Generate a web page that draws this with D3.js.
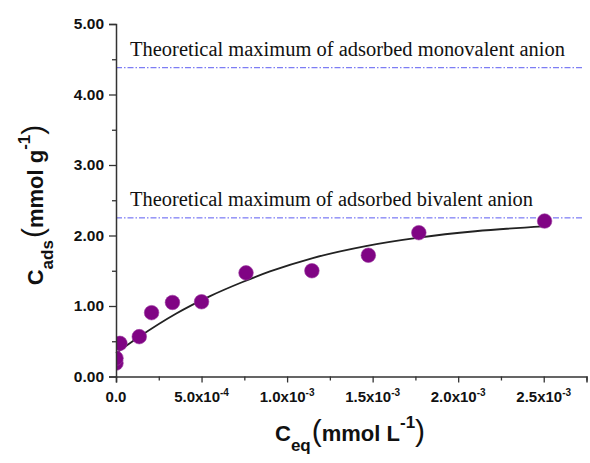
<!DOCTYPE html>
<html>
<head>
<meta charset="utf-8">
<script src="https://cdn.jsdelivr.net/npm/d3@7/dist/d3.min.js"></script>
<style>
  html, body { margin: 0; padding: 0; background: #fff; }
  svg { display: block; }
</style>
</head>
<body>
<div id="chart"></div>
<script>
// Measured adsorption points: equilibrium concentration vs adsorbed amount
const ceq  = [0, 0, 2.3e-5, 1.36e-4, 2.08e-4, 3.3e-4, 5.0e-4, 7.6e-4, 1.145e-3, 1.475e-3, 1.77e-3, 2.505e-3];
const cads = [0.19, 0.26, 0.47, 0.565, 0.905, 1.05, 1.06, 1.47, 1.50, 1.72, 2.04, 2.205];

// Fitted isotherm curve, sampled along the x range
const fitX = [0, 1.4e-4, 3.5e-4, 5.5e-4, 7.4e-4, 9.0e-4, 1.15e-3, 1.46e-3, 1.77e-3, 2.1e-3, 2.5e-3];
const fitY = [0.33, 0.57, 0.89, 1.14, 1.34, 1.49, 1.68, 1.85, 1.97, 2.06, 2.13];

// Theoretical capacity reference levels
const refLevels = [4.38, 2.25];
const refLabels = ["Theoretical maximum of adsorbed monovalent anion",
                   "Theoretical maximum of adsorbed bivalent anion"];
const refLabelWidths = [435, 403];

// Axis ticks
const xTicks = [0, 5e-4, 1e-3, 1.5e-3, 2e-3, 2.5e-3];
const xTickLabels = ["0.0", "5.0x10^-4", "1.0x10^-3", "1.5x10^-3", "2.0x10^-3", "2.5x10^-3"];
const xMinorTicks = [2.5e-4, 7.5e-4, 1.25e-3, 1.75e-3, 2.25e-3, 2.75e-3];
const yTicks = [0, 1, 2, 3, 4, 5];
const yTickLabels = ["0.00", "1.00", "2.00", "3.00", "4.00", "5.00"];
const yMinorTicks = [0.5, 1.5, 2.5, 3.5, 4.5];

const W = 590, H = 463;
const svg = d3.select("#chart").append("svg").attr("width", W).attr("height", H);

const x = d3.scaleLinear().domain([0, 2.75e-3]).range([116, 586.5]);
const y = d3.scaleLinear().domain([0, 5]).range([376.5, 24]);

const axisColor = "#333";
const sans = "'Liberation Sans', Arial, sans-serif";
const serif = "'Liberation Serif', 'Times New Roman', serif";

// Markers are clipped at the left axis
svg.append("defs").append("clipPath").attr("id", "plot-clip")
  .append("rect")
  .attr("x", x(0)).attr("y", 0)
  .attr("width", W - x(0)).attr("height", H);

// Reference lines and their captions
refLevels.forEach((v, i) => {
  svg.append("line")
    .attr("x1", x(0)).attr("x2", 582)
    .attr("y1", y(v)).attr("y2", y(v))
    .attr("stroke", "#5c5cf2").attr("stroke-width", 1)
    .attr("stroke-dasharray", "6,2,1.5,2");
  svg.append("text")
    .attr("x", 130).attr("y", y(v) - 11.5)
    .attr("font-family", serif).attr("font-size", 20)
    .attr("textLength", refLabelWidths[i]).attr("lengthAdjust", "spacingAndGlyphs")
    .attr("fill", "#111")
    .text(refLabels[i]);
});

// Fit curve
const fitData = fitX.map((d, i) => [d, fitY[i]]);
svg.append("path")
  .datum(fitData)
  .attr("fill", "none")
  .attr("stroke", "#222")
  .attr("stroke-width", 1.8)
  .attr("d", d3.line().x(d => x(d[0])).y(d => y(d[1])).curve(d3.curveMonotoneX));

// Data points
svg.append("g").attr("clip-path", "url(#plot-clip)")
  .selectAll("circle")
  .data(ceq.map((d, i) => [d, cads[i]]))
  .join("circle")
  .attr("cx", d => x(d[0]))
  .attr("cy", d => y(d[1]))
  .attr("r", 7.3)
  .attr("fill", "#800484")
  .attr("stroke", "#9a3aa0")
  .attr("stroke-width", 0.6);

// X axis
const gx = svg.append("g").attr("transform", `translate(0,${y(0)})`);
gx.call(d3.axisBottom(x).tickValues(xTicks).tickSize(6).tickFormat(""))
  .call(g => g.select(".domain").attr("stroke", axisColor).attr("stroke-width", 1.5))
  .call(g => g.selectAll(".tick line").attr("stroke", axisColor).attr("stroke-width", 1.3));
gx.append("g").call(d3.axisBottom(x).tickValues(xMinorTicks).tickSize(4).tickFormat(""))
  .call(g => g.select(".domain").remove())
  .call(g => g.selectAll(".tick line").attr("stroke", axisColor).attr("stroke-width", 1.3));

xTicks.forEach((v, i) => {
  const parts = xTickLabels[i].split("^");
  const t = gx.append("text")
    .attr("x", x(v)).attr("y", 25)
    .attr("text-anchor", "middle")
    .attr("font-family", sans).attr("font-weight", "bold")
    .attr("font-size", 15).attr("fill", "#111");
  t.append("tspan").text(parts[0]);
  if (parts[1]) {
    t.append("tspan").attr("dy", -6).attr("font-size", 10).text(parts[1]);
  }
});

// Y axis
const gy = svg.append("g").attr("transform", `translate(${x(0)},0)`);
gy.call(d3.axisLeft(y).tickValues(yTicks).tickSize(7).tickFormat((d, i) => yTickLabels[i]))
  .call(g => g.select(".domain").attr("stroke", axisColor).attr("stroke-width", 1.5))
  .call(g => g.selectAll(".tick line").attr("stroke", axisColor).attr("stroke-width", 1.3))
  .call(g => g.selectAll(".tick text")
    .attr("x", -12)
    .attr("font-family", sans).attr("font-weight", "bold")
    .attr("font-size", 15.5).attr("fill", "#111"));
gy.append("g").call(d3.axisLeft(y).tickValues(yMinorTicks).tickSize(4).tickFormat(""))
  .call(g => g.select(".domain").remove())
  .call(g => g.selectAll(".tick line").attr("stroke", axisColor).attr("stroke-width", 1.3));

// X axis title: C_eq (mmol L^-1)
const xt = svg.append("text")
  .attr("x", 275).attr("y", 441)
  .attr("font-family", sans).attr("font-weight", "bold")
  .attr("font-size", 22).attr("fill", "#111");
xt.append("tspan").text("C");
xt.append("tspan").attr("dy", 10).attr("font-size", 17).text("eq");
xt.append("tspan").attr("dy", -10).attr("dx", 1).attr("font-size", 30).attr("font-weight", "normal").text("(");
xt.append("tspan").text("mmol L");
xt.append("tspan").attr("dy", -13).attr("font-size", 17).text("-1");
xt.append("tspan").attr("dy", 13).attr("font-size", 30).attr("font-weight", "normal").text(")");

// Y axis title: C_ads (mmol g^-1)
const yt = svg.append("text")
  .attr("transform", "translate(43,205) rotate(-90)")
  .attr("text-anchor", "middle")
  .attr("font-family", sans).attr("font-weight", "bold")
  .attr("font-size", 22).attr("fill", "#111");
yt.append("tspan").text("C");
yt.append("tspan").attr("dy", 10).attr("font-size", 17).text("ads");
yt.append("tspan").attr("dy", -10).attr("dx", 2).attr("font-size", 30).attr("font-weight", "normal").text("(");
yt.append("tspan").text("mmol g");
yt.append("tspan").attr("dy", -13).attr("font-size", 17).text("-1");
yt.append("tspan").attr("dy", 13).attr("font-size", 30).attr("font-weight", "normal").text(")");
</script>
</body>
</html>
